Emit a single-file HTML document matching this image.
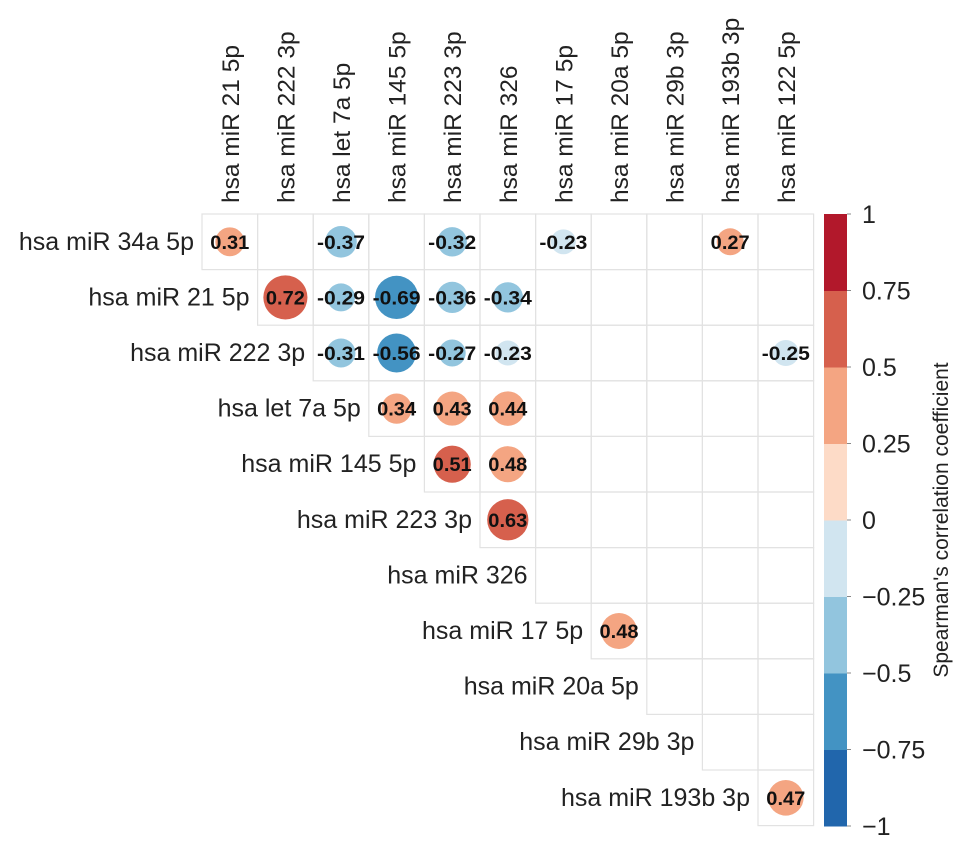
<!DOCTYPE html>
<html><head><meta charset="utf-8"><style>
body{margin:0;background:#fff;font-family:"Liberation Sans",sans-serif}
</style></head><body>
<svg width="969" height="849" xmlns="http://www.w3.org/2000/svg">
<g id="grid"></g>
<g id="marks"></g>
<g id="labels"></g>
<g id="cbar"></g>
<text transform="translate(948,520) rotate(-90)" text-anchor="middle" font-size="21" fill="#222">Spearman's correlation coefficient</text>
</svg>
<script>
const rowLabels=["hsa miR 34a 5p","hsa miR 21 5p","hsa miR 222 3p","hsa let 7a 5p","hsa miR 145 5p","hsa miR 223 3p","hsa miR 326","hsa miR 17 5p","hsa miR 20a 5p","hsa miR 29b 3p","hsa miR 193b 3p"];
const colLabels=["hsa miR 21 5p","hsa miR 222 3p","hsa let 7a 5p","hsa miR 145 5p","hsa miR 223 3p","hsa miR 326","hsa miR 17 5p","hsa miR 20a 5p","hsa miR 29b 3p","hsa miR 193b 3p","hsa miR 122 5p"];
const cellRows=[0,0,0,0,0,1,1,1,1,1,2,2,2,2,2,3,3,3,4,4,5,7,10];
const cellCols=[0,2,4,6,9,1,2,3,4,5,2,3,4,5,10,3,4,5,4,5,5,7,10];
const cellValues=[0.31,-0.37,-0.32,-0.23,0.27,0.72,-0.29,-0.69,-0.36,-0.34,-0.31,-0.56,-0.27,-0.23,-0.25,0.34,0.43,0.44,0.51,0.48,0.63,0.48,0.47];
const tickValues=[1,0.75,0.5,0.25,0,-0.25,-0.5,-0.75,-1];
const tickLabels=["1","0.75","0.5","0.25","0","\u22120.25","\u22120.5","\u22120.75","\u22121"];
const palette=["#2166AC","#4393C3","#92C5DE","#D1E5F0","#FDDBC7","#F4A582","#D6604D","#B2182B"];
const X0=202,Y0=214,CW=55.6,CH=55.6,N=11;
const NS="http://www.w3.org/2000/svg";
const cx=j=>X0+CW*(j+0.5), cy=i=>Y0+CH*(i+0.5);
const colorOf=v=>palette[Math.min(7,Math.max(0,Math.floor((v+1)/0.25)))];
function mk(t,a,p){const e=document.createElementNS(NS,t);for(const k in a)e.setAttribute(k,a[k]);p.appendChild(e);return e;}
const G=document.getElementById('grid'),M=document.getElementById('marks'),L=document.getElementById('labels'),C=document.getElementById('cbar');
for(let i=0;i<N;i++)for(let j=i;j<N;j++){
 const r=mk('rect',{x:X0+CW*j,y:Y0+CH*i,width:CW,height:CH,fill:'none',stroke:'#e2e2e2','stroke-width':1.2},G);
 
 
}
cellValues.forEach((v,k)=>{
 const i=cellRows[k],j=cellCols[k];
 const c=mk('circle',{cx:cx(j),cy:cy(i),r:Math.sqrt(Math.abs(v))*26,fill:colorOf(v)},M);
 
 
 const t=mk('text',{x:cx(j),y:cy(i)+7,'text-anchor':'middle','font-size':19,'font-weight':'bold',fill:'#111',textLength:v<0?48:39,lengthAdjust:'spacingAndGlyphs'},M);
 t.textContent=v.toFixed(2);
 
 
});
rowLabels.forEach((s,i)=>{
 const t=mk('text',{x:X0+CW*i-8,y:cy(i)+8,'text-anchor':'end','font-size':25,fill:'#222'},L);
 t.textContent=s;
 
 
});
colLabels.forEach((s,j)=>{
 const t=mk('text',{transform:`translate(${cx(j)+9},203) rotate(-90)`,'font-size':24.5,fill:'#222'},L);
 t.textContent=s;
 
 
});
const BX=824,BW=23,BT=214,BB=826;
const by=v=>BT+(1-v)/2*(BB-BT);
palette.forEach((col,k)=>{
 const lo=-1+k*0.25,hi=lo+0.25;
 const r=mk('rect',{x:BX,y:by(hi),width:BW,height:by(lo)-by(hi)+0.5,fill:col},C);
 
 
});
tickValues.forEach((v,k)=>{
 const l=mk('line',{x1:BX+BW,x2:BX+BW+4,y1:by(v),y2:by(v),stroke:'#888'},C);
 
 
 const t=mk('text',{x:862,y:by(v)+9,'font-size':25,fill:'#222'},C);
 t.textContent=tickLabels[k];
 
 
});
</script>
</body></html>
